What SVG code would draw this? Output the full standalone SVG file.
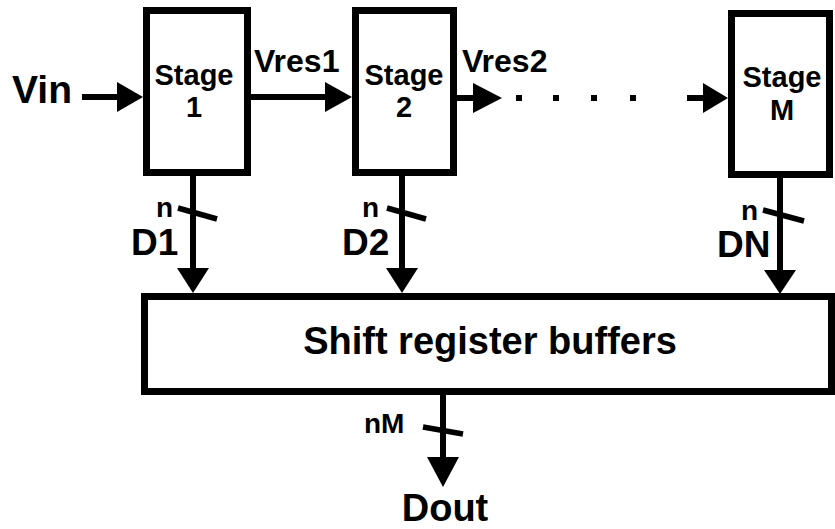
<svg xmlns="http://www.w3.org/2000/svg" width="835" height="529" viewBox="0 0 835 529">
<style>
.box{fill:#fff;stroke:#000;stroke-width:7}
.w{stroke:#000;stroke-width:6;fill:none}
.sl{stroke:#000;stroke-width:5.5;fill:none}
.ah{fill:#000;stroke:none}
.dot{fill:#000}
text{font-family:"Liberation Sans",Arial,sans-serif;font-weight:bold;fill:#000}
.lbl{font-size:29px;text-anchor:middle}
</style>
<rect width="835" height="529" fill="#fff"/>
<g id="connectors">
  <line class="w" x1="82" y1="97" x2="120" y2="97"/>
  <polygon class="ah" points="117,82 143,97 117,112"/>
  <line class="w" x1="251" y1="97" x2="328" y2="97"/>
  <polygon class="ah" points="325,82 352,97 325,112"/>
  <line class="w" x1="457" y1="98" x2="476" y2="98"/>
  <polygon class="ah" points="473,83 502,98 473,113"/>
  <rect class="dot" x="516" y="95" width="6" height="6"/>
  <rect class="dot" x="553" y="95" width="6" height="6"/>
  <rect class="dot" x="591" y="95" width="6" height="6"/>
  <rect class="dot" x="630" y="95" width="6" height="6"/>
  <line class="w" x1="687" y1="98" x2="706" y2="98"/>
  <polygon class="ah" points="703,83 728,98 703,113"/>
  <line class="w" x1="193" y1="176" x2="193" y2="271"/>
  <polygon class="ah" points="177,268 209,268 193,293"/>
  <line class="sl" x1="178" y1="208" x2="217" y2="219"/>
  <line class="w" x1="402" y1="176" x2="402" y2="271"/>
  <polygon class="ah" points="386,268 418,268 402,293"/>
  <line class="sl" x1="387" y1="208" x2="426" y2="219"/>
  <line class="w" x1="780" y1="178" x2="780" y2="273"/>
  <polygon class="ah" points="764,270 796,270 780,294"/>
  <line class="sl" x1="763" y1="210" x2="804" y2="221"/>
  <line class="w" x1="443" y1="395" x2="443" y2="460"/>
  <polygon class="ah" points="427,457 459,457 443,487"/>
  <line class="sl" x1="423" y1="427" x2="463" y2="434"/>
</g>
<g id="stage1">
  <rect class="box" x="146.5" y="10.5" width="101" height="162"/>
  <text class="lbl" x="194" y="85">Stage</text>
  <text class="lbl" x="194" y="117">1</text>
</g>
<g id="stage2">
  <rect class="box" x="355.5" y="10.5" width="98" height="162"/>
  <text class="lbl" x="404" y="85">Stage</text>
  <text class="lbl" x="404" y="117">2</text>
</g>
<g id="stageM">
  <rect class="box" x="731.5" y="13.5" width="98" height="161"/>
  <text class="lbl" x="782" y="87">Stage</text>
  <text class="lbl" x="782" y="120">M</text>
</g>
<g id="shift">
  <rect class="box" x="144.5" y="296.5" width="687" height="95"/>
  <text x="490" y="354" font-size="38" text-anchor="middle">Shift register buffers</text>
</g>
<g id="labels">
  <text x="12" y="103" font-size="39">Vin</text>
  <text x="254" y="72" font-size="32">Vres1</text>
  <text x="462" y="72" font-size="32">Vres2</text>
  <text x="156" y="217" font-size="28">n</text>
  <text x="362" y="217" font-size="28">n</text>
  <text x="741" y="220" font-size="28">n</text>
  <text x="131" y="255" font-size="37">D1</text>
  <text x="342" y="255" font-size="37">D2</text>
  <text x="717" y="257" font-size="37">DN</text>
  <text x="364" y="433" font-size="28">nM</text>
  <text x="445" y="521" font-size="38" text-anchor="middle">Dout</text>
</g>
</svg>
